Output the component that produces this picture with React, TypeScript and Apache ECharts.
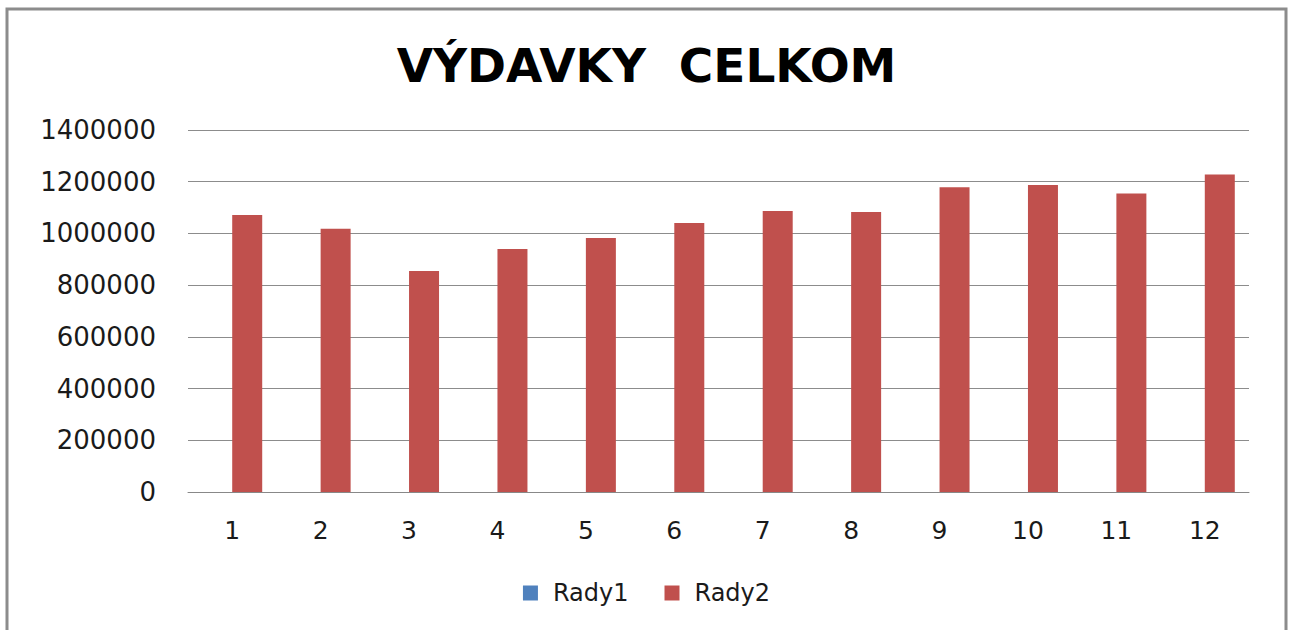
import React, { useEffect, useRef } from "react";
import * as echarts from "echarts";

const categories = ["1", "2", "3", "4", "5", "6", "7", "8", "9", "10", "11", "12"];
const rady1 = [0, 0, 0, 0, 0, 0, 0, 0, 0, 0, 0, 0];
const rady2 = [1071000, 1018000, 855000, 940000, 982000, 1040000, 1087000, 1083000, 1179000, 1187000, 1154000, 1228000];
const yTicks = { min: 0, max: 1400000, interval: 200000 };
const title = "VÝDAVKY  CELKOM";

export default function App() {
  const ref = useRef<HTMLDivElement>(null);
  useEffect(() => {
    if (!ref.current) return;
    const chart = echarts.init(ref.current, null, { renderer: "svg" });
    const font = "DejaVu Sans";
    chart.setOption({
      animation: false,
      backgroundColor: "#ffffff",
      title: {
        text: title,
        left: "center",
        top: 37,
        textStyle: { fontFamily: font, fontSize: 47, fontWeight: "bold", color: "#000000" },
      },
      graphic: [
        {
          type: "rect",
          shape: { x: 7, y: 9, width: 1279, height: 640 },
          style: { fill: "none", stroke: "#8c8c8c", lineWidth: 3 },
          silent: true,
        },
      ],
      legend: {
        data: ["Rady1", "Rady2"],
        left: "center",
        top: 576,
        itemWidth: 15,
        itemHeight: 15,
        itemGap: 36,
        icon: "rect",
        textStyle: { fontFamily: font, fontSize: 24, color: "#1a1a1a", padding: [0, 0, 0, 10] },
      },
      grid: { left: 188, right: 44, top: 130, bottom: 138 },
      xAxis: {
        type: "category",
        data: categories,
        axisLine: { lineStyle: { color: "#888888", width: 1 } },
        axisTick: { show: false },
        axisLabel: { fontFamily: font, fontSize: 25, color: "#1a1a1a", margin: 26 },
      },
      yAxis: {
        type: "value",
        min: yTicks.min,
        max: yTicks.max,
        interval: yTicks.interval,
        axisLine: { show: false },
        axisTick: { show: false },
        splitLine: { lineStyle: { color: "#8c8c8c", width: 1 } },
        axisLabel: {
          fontFamily: font,
          fontSize: 26,
          color: "#1a1a1a",
          margin: 32,
          formatter: (v: number) => String(v),
        },
      },
      series: [
        { name: "Rady1", type: "bar", data: rady1, barWidth: 30, barGap: "0%", itemStyle: { color: "#4F81BD" } },
        { name: "Rady2", type: "bar", data: rady2, barWidth: 30, barGap: "0%", itemStyle: { color: "#C0504D" } },
      ],
    });
    return () => chart.dispose();
  }, []);
  return (
    <div
      ref={ref}
      style={{ position: "fixed", left: 0, top: 0, width: 1293, height: 630 }}
    />
  );
}
